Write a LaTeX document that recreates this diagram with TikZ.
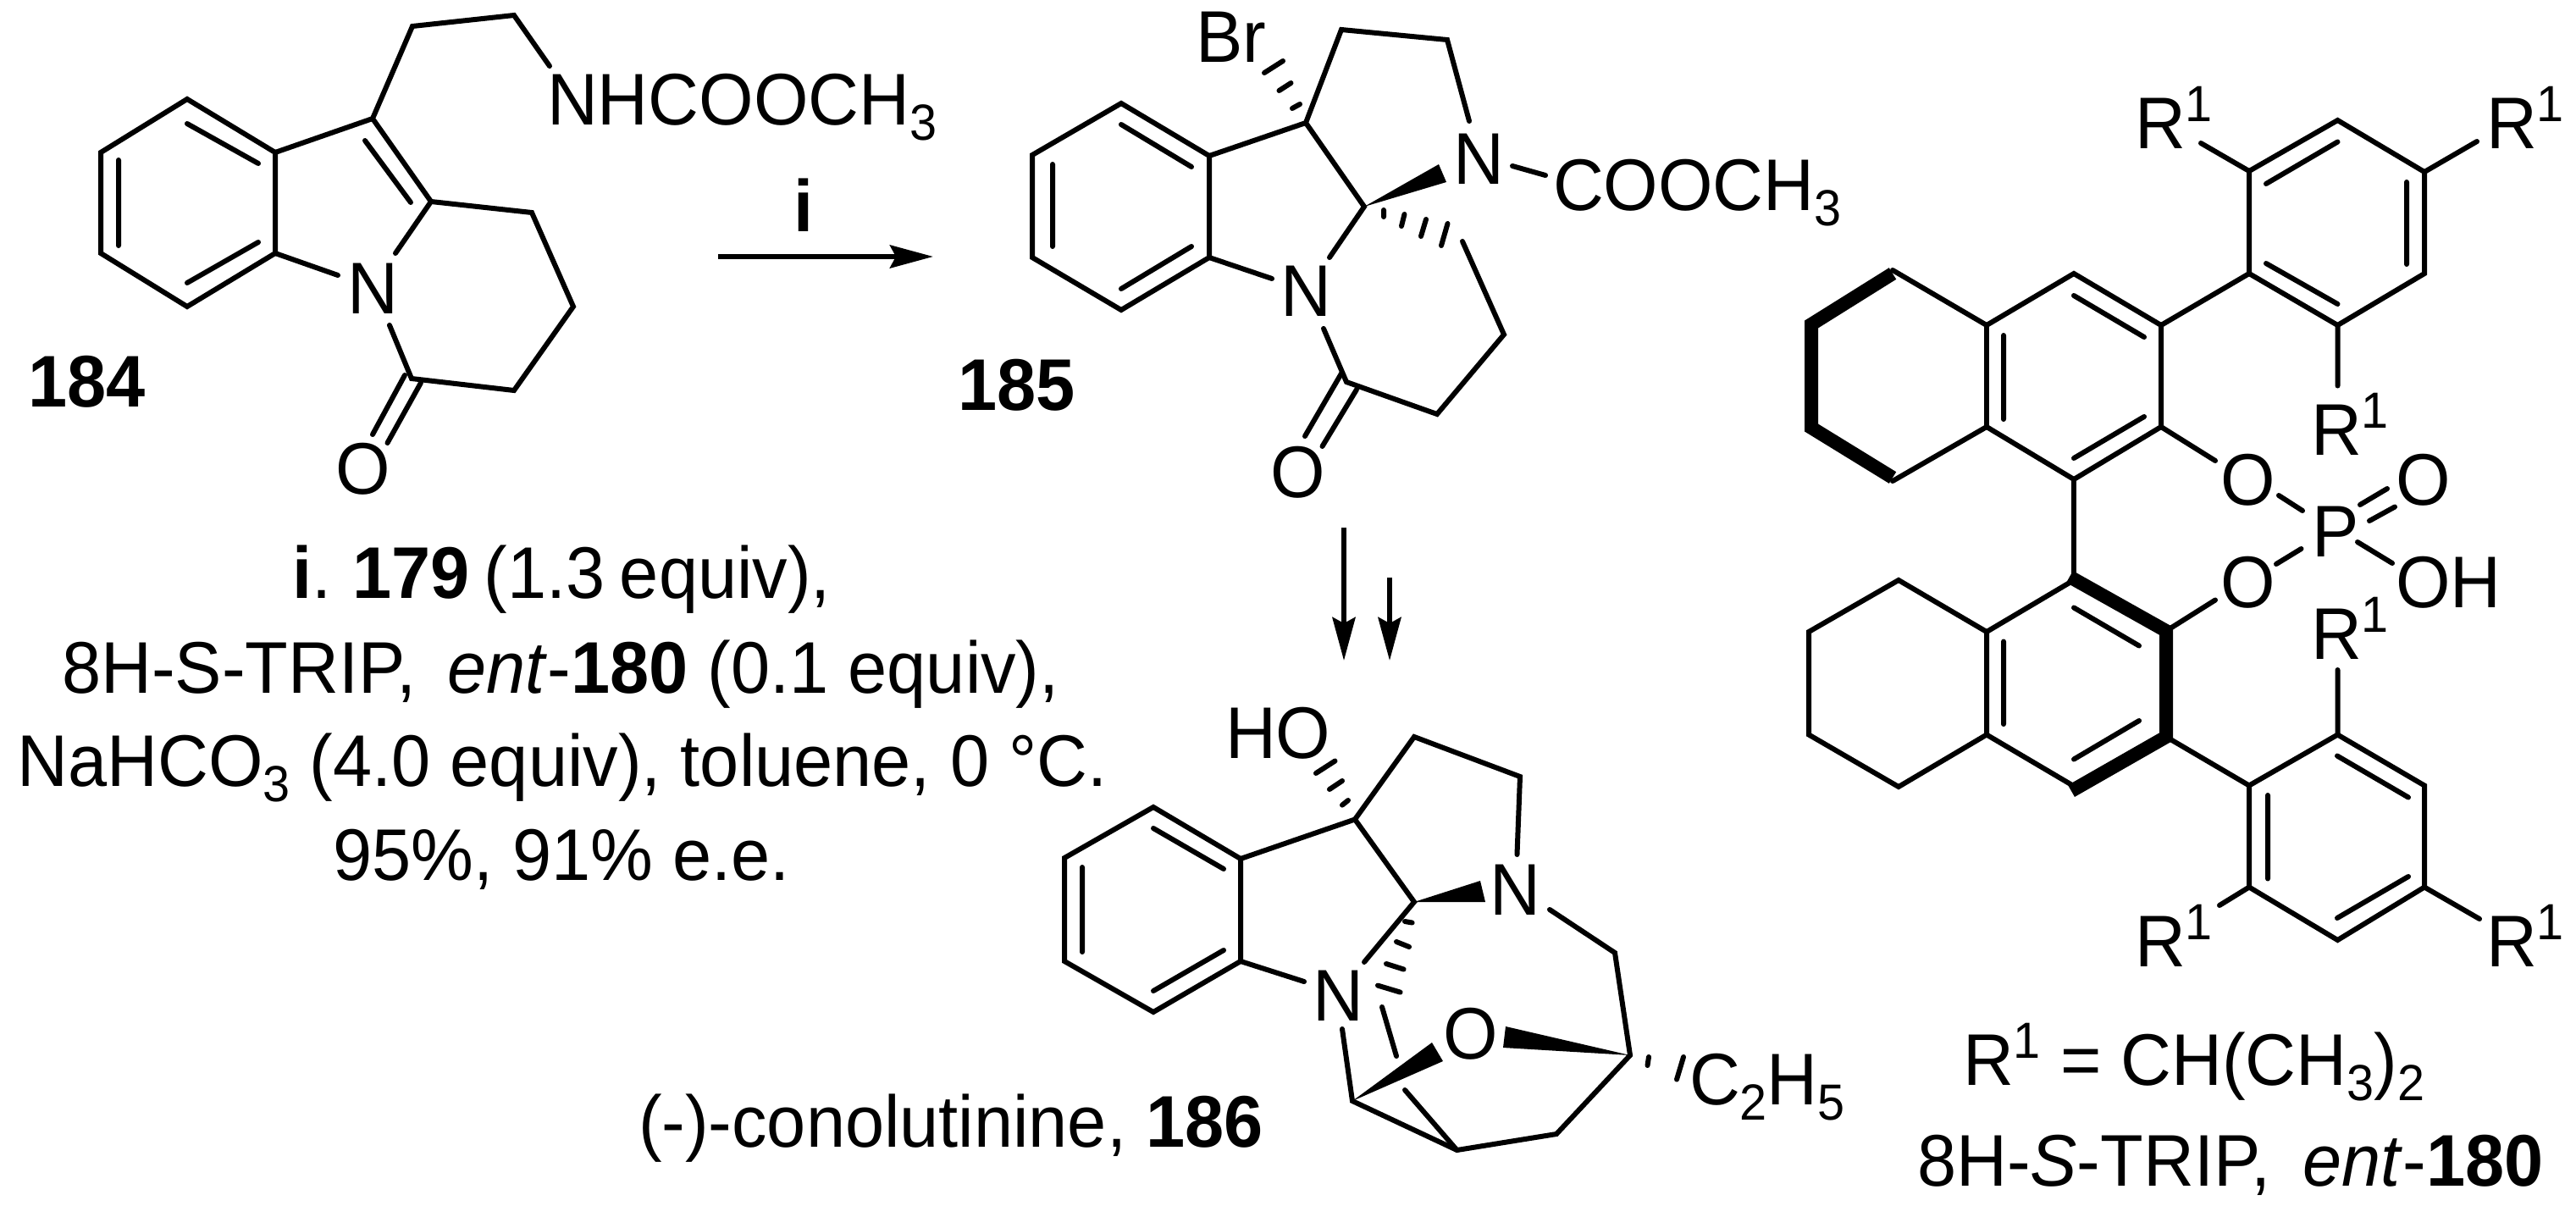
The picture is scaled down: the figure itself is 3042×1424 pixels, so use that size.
\documentclass[tikz,border=0pt]{standalone}
\usepackage{fontspec}
\setmainfont[FakeStretch=0.96]{Liberation Sans}
\usetikzlibrary{arrows.meta}
\newcommand\chemsub[1]{\raisebox{-9pt}{\fontsize{30}{31}\selectfont #1}}
\newcommand\chemsup[1]{\raisebox{16pt}{\fontsize{30}{31}\selectfont #1}}
\newcommand\atoms[1]{\foreach \n/\x/\y in {#1}{\coordinate (\n) at (\x,\y);}}
\tikzset{
  bond/.style={draw=black,line width=3pt,line cap=round,line join=miter,miter limit=8},
  boldbond/.style={draw=black,line width=8pt,line cap=butt,line join=miter,miter limit=8},
  wedge/.style={fill=black,draw=none},
  rxn/.style={draw=black,line width=3pt,-{Stealth[length=25.5pt,width=13.5pt,inset=3.5pt]}},
  lab/.style={anchor=base west,inner sep=0pt,outer sep=0pt,text=black},
  cond/.style={anchor=base,inner sep=0pt,outer sep=0pt,text=black}
}
\begin{document}
\begin{tikzpicture}[x=0.5pt,y=-0.5pt,font=\fontsize{43.2}{50}\selectfont]
\useasboundingbox (0,0) rectangle (3042,1424);
% ===== 184 =====
\atoms{a1/221/117,a2/325/180,a3/325/299,a4/221/362,a5/119/299,a6/119/180,
a7/440/140,a8/509/238,a9/487/31,a10/607/18,a11/649/78,a12/628/251,a13/677/362,a14/607/461,a15/486/447,
a16/467/299,a17/399/325,a18/460/384,
ai1/221/146,ai2/305/193,ai3/305/286,ai4/221/334,ai5/140/290,ai6/140/189,
ai7/431/166,ai8/485/239,
ao1/478/443,ao2/440/513,ao3/497/452,ao4/457.5/523,
arr1s/848/303,arr1e/1102/303,arr2s/1587/623,arr2e/1587/780,arr3s/1641/682,arr3e/1641/780}
\draw[bond] (a1)--(a2)--(a3)--(a4)--(a5)--(a6)--cycle;
\draw[bond] (ai1)--(ai2) (ai3)--(ai4) (ai5)--(ai6) (ai7)--(ai8);
\draw[bond] (a2)--(a7)--(a8) (a7)--(a9)--(a10)--(a11);
\draw[bond] (a8)--(a16) (a3)--(a17) (a18)--(a15)--(a14)--(a13)--(a12)--(a8);
\draw[bond] (ao1)--(ao2) (ao3)--(ao4);
\node[lab] (n184) at (410,370) {N};
\node[lab] (o184) at (396,583) {O};
\node[lab] (s184) at (646,147) {NHCOOCH\chemsub{3}};
\node[lab] (l184) at (33,480) {\textbf{184}};
\draw[rxn] (arr1s)--(arr1e);
\node[cond] (ilab) at (949,273) {\textbf{i}};
% ===== 185 =====
\atoms{b1/1324/122,b2/1428/184,b3/1428/304,b4/1324/366,b5/1219/304,b6/1219/183,
b7/1542/145,b8/1611/244,b9/1584/35,b10/1709/47,b11/1735/143,b12/1502/329,b13/1570/304,
b14/1563/388,b15/1590/451,b16/1697/489,b17/1776/395,b18/1727/285,b19/1786/196,b20/1825/207,
bi1/1324/147,bi2/1407/197,bi3/1407/291,bi4/1324/341,bi5/1243/291,bi6/1243/194,
bw1/1699/194,bw2/1708/215,
bo1/1584/441,bo2/1541/515,bo3/1602/460,bo4/1561.5/527,
bh1a/1634/248,bh1b/1634/256,bh2a/1658.5/253,bh2b/1655/267,bh3a/1684/259,bh3b/1678/279,bh4a/1709.5/264,bh4b/1702/290,
bb1a/1493/86,bb1b/1515/72,bb2a/1510.5/107,bb2b/1524.5/98,bb3a/1526/128,bb3b/1535/123}
\draw[bond] (b1)--(b2)--(b3)--(b4)--(b5)--(b6)--cycle;
\draw[bond] (bi1)--(bi2) (bi3)--(bi4) (bi5)--(bi6);
\draw[bond] (b2)--(b7)--(b8)--(b13) (b3)--(b12) (b7)--(b9)--(b10)--(b11);
\draw[bond] (b14)--(b15)--(b16)--(b17)--(b18) (b19)--(b20);
\draw[bond] (bo1)--(bo2) (bo3)--(bo4);
\fill[wedge] (b8)--(bw1)--(bw2)--cycle;
\draw[bond] (bh1a)--(bh1b) (bh2a)--(bh2b) (bh3a)--(bh3b) (bh4a)--(bh4b);
\draw[bond] (bb1a)--(bb1b) (bb2a)--(bb2b) (bb3a)--(bb3b);
\node[lab] (brl) at (1412,73) {Br};
\node[lab] (n185a) at (1716,217) {N};
\node[lab] (n185b) at (1512,373) {N};
\node[lab] (o185) at (1500,587) {O};
\node[lab] (s185) at (1834,248) {COOCH\chemsub{3}};
\node[lab] (l185) at (1131,484) {\textbf{185}};
\draw[rxn] (arr2s)--(arr2e);
\draw[rxn] (arr3s)--(arr3e);
% ===== 186 =====
\atoms{c1/1362/953,c2/1465/1014,c3/1465/1135,c4/1362/1195,c5/1257/1135,c6/1257/1013,
c7/1600/967.5,c8/1670/1065,c9/1670/870,c10/1795/917,c11/1791.5/1009,c12/1830/1074,c13/1907/1125,
c14/1925/1246,c15/1838/1339,c16/1720.5/1358,c17/1597/1300,c18/1585/1215,c19/1611/1136,c20/1540/1159,
c21/1659/1287,c22/1632/1189,c23/1649/1247,
ci1/1362/978,ci2/1445/1026,ci3/1445/1122,ci4/1362/1170,ci5/1278/1124,ci6/1278/1024,
cw1/1748/1040,cw2/1754/1065,cw3/1691/1231,cw4/1704/1253,cw5/1778/1212,cw6/1775/1237,
ch1a/1659/1088,ch1b/1667.6/1089.5,ch2a/1649/1112,ch2b/1664/1118,ch3a/1637/1138,ch3b/1657.6/1144.5,ch4a/1627/1163.6,ch4b/1653.6/1171.6,
ce1a/1947/1248,ce1b/1945.5/1258,ce2a/1988/1248,ce2b/1980/1274.6,
cp1a/1554/913,cp1b/1576.5/898.5,cp2a/1570/932,cp2b/1585/922,cp3a/1585/950.6,cp3b/1592/945}
\draw[bond] (c1)--(c2)--(c3)--(c4)--(c5)--(c6)--cycle;
\draw[bond] (ci1)--(ci2) (ci3)--(ci4) (ci5)--(ci6);
\draw[bond] (c2)--(c7)--(c8)--(c19) (c3)--(c20) (c7)--(c9)--(c10)--(c11);
\draw[bond] (c12)--(c13)--(c14)--(c15)--(c16)--(c17)--(c18);
\draw[bond] (c21)--(c16) (c22)--(c23);
\fill[wedge] (c8)--(cw1)--(cw2)--cycle;
\fill[wedge] (c17)--(cw3)--(cw4)--cycle;
\fill[wedge] (c14)--(cw5)--(cw6)--cycle;
\draw[bond] (ch1a)--(ch1b) (ch2a)--(ch2b) (ch3a)--(ch3b) (ch4a)--(ch4b);
\draw[bond] (ce1a)--(ce1b) (ce2a)--(ce2b);
\draw[bond] (cp1a)--(cp1b) (cp2a)--(cp2b) (cp3a)--(cp3b);
\node[lab] (hol) at (1447,895) {HO};
\node[lab] (n186a) at (1759,1080) {N};
\node[lab] (n186b) at (1550,1205) {N};
\node[lab] (o186) at (1704,1250) {O};
\node[lab] (c2h5) at (1995,1304) {C\chemsub{2}H\chemsub{5}};
\node[lab] (l186) at (754,1354) {(-)-conolutinine, \textbf{186}};
% ===== conditions =====
\node[cond] (c1l) at (663,706) {\spaceskip=.2em \textbf{i}. \textbf{179} (1.3 equiv),};
\node[cond] (c2l) at (662,818) {8H-S-TRIP,\, \textit{ent}-\textbf{180} (0.1 equiv),};
\node[cond] (c3l) at (664,928) {NaHCO\chemsub{3} (4.0 equiv), toluene, 0 °C.};
\node[cond] (c4l) at (663,1039) {95\%, 91\% e.e.};
% ===== 180 upper =====
\atoms{d1/2235/323,d2/2139/383,d3/2139/505,d4/2235/564,d5/2346/384,d6/2346/504,d7/2449/323,d8/2552/384,d9/2552/504,d10/2449/566,d11/2449/683,
di1/2449/349,di2/2532/398,di3/2366/396,di4/2366/495,di5/2449/541,di6/2532/492,
e1/2656/323,e2/2656/202,e3/2760.5/142,e4/2863/203,e5/2863/323,e6/2760.5/384,
ei1/2676/217,ei2/2760.5/167.5,ei3/2842/215,ei4/2842/312,ei5/2676/311,ei6/2760.5/359,
es1/2599/169,es2/2925/167,es3/2760.5/455.5,
p1/2616/544,p2/2691/585,p3/2719/603,p4/2688/666,p5/2717.5/648,p6/2784/640,p7/2825/665,
p8/2787/596,p9/2819/577,p10/2798/615,p11/2828/598.5,
f1/2449/685,f2/2558/745,f3/2558/870,f4/2452/930,f5/2346/746,f6/2346/867.5,f7/2242/929,f8/2136/867.5,f9/2136/746,f10/2242/685,
fi1/2449/717.5,fi2/2526/762.5,fi3/2366/757.5,fi4/2366/855,fi5/2449/896.5,fi6/2526/851,
p12/2616/708.5,
g1/2656/927.5,g2/2656/1047.5,g3/2760.5/1110,g4/2863/1047.5,g5/2863/927.5,g6/2760.5/867.5,
gi1/2678/939,gi2/2678/1037.5,gi3/2760/892.5,gi4/2844/941.5,gi5/2760/1084,gi6/2844/1035,
gs1/2760.5/791,gs2/2621/1069,gs3/2928/1085,d1t/2235/319,d4t/2235/568,f1t/2444/681,f4t/2446/934}
\draw[boldbond] (d1)--(d2)--(d3)--(d4);
\draw[bond] (d1t)--(d5)--(d7)--(d8)--(d9)--(d10)--(d6)--(d4t);
\draw[bond] (d5)--(d6) (d10)--(d11);
\draw[bond] (di1)--(di2) (di3)--(di4) (di5)--(di6);
\draw[bond] (d8)--(e1);
\draw[bond] (e1)--(e2)--(e3)--(e4)--(e5)--(e6)--cycle;
\draw[bond] (ei1)--(ei2) (ei3)--(ei4) (ei5)--(ei6);
\draw[bond] (e2)--(es1) (e4)--(es2) (e6)--(es3);
\draw[bond] (d9)--(p1) (p2)--(p3) (p4)--(p5) (p6)--(p7) (p8)--(p9) (p10)--(p11);
\draw[boldbond] (f1t)--(f2)--(f3)--(f4t);
\draw[bond] (f1)--(f5)--(f6)--(f4);
\draw[bond] (f6)--(f7)--(f8)--(f9)--(f10)--(f5);
\draw[bond] (fi1)--(fi2) (fi3)--(fi4) (fi5)--(fi6);
\draw[bond] (f2)--(p12);
\draw[bond] (f3)--(g1);
\draw[bond] (g1)--(g2)--(g3)--(g4)--(g5)--(g6)--cycle;
\draw[bond] (gi1)--(gi2) (gi3)--(gi4) (gi5)--(gi6);
\draw[bond] (g6)--(gs1) (g2)--(gs2) (g4)--(gs3);
\node[lab] (r1) at (2521,175) {R\chemsup{1}};
\node[lab] (r2) at (2936,175) {R\chemsup{1}};
\node[lab] (r3) at (2729,537) {R\chemsup{1}};
\node[lab] (o1) at (2622,596) {O};
\node[lab] (o2) at (2829,596) {O};
\node[lab] (pp) at (2730,657) {P};
\node[lab] (o3) at (2622,717) {O};
\node[lab] (oh) at (2829,717) {OH};
\node[lab] (r4) at (2729,778) {R\chemsup{1}};
\node[lab] (r5) at (2521,1141) {R\chemsup{1}};
\node[lab] (r6) at (2936,1141) {R\chemsup{1}};
\node[lab] (rdef) at (2318,1281) {R\chemsup{1} = CH(CH\chemsub{3})\chemsub{2}};
\node[lab] (trip) at (2264,1400) {8H-\textit{S}-TRIP,\, \textit{ent}-\textbf{180}};
\end{tikzpicture}
\end{document}
